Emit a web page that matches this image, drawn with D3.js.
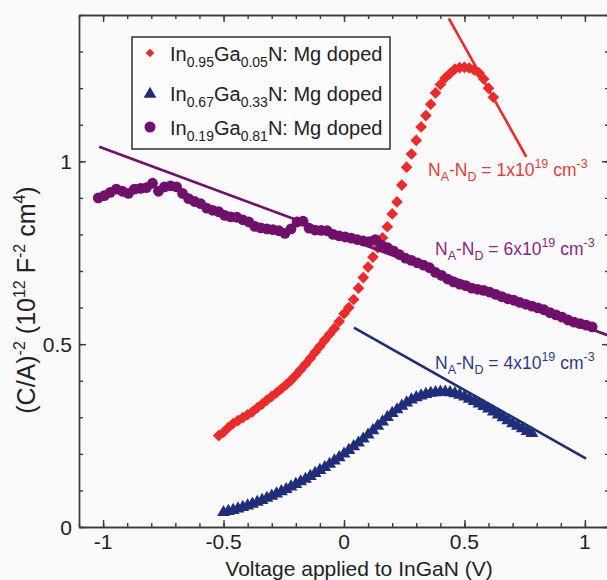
<!DOCTYPE html>
<html>
<head>
<meta charset="utf-8">
<script src="https://cdn.jsdelivr.net/npm/d3@7/dist/d3.min.js"></script>
<style>
  body { margin: 0; background: #fafafa; }
  svg { display: block; font-family: "Liberation Sans", Arial, sans-serif; }
</style>
</head>
<body>
<div id="chart"></div>
<script>
// ---- data: [voltage (V), (C/A)^-2 (1e12 F^-2 cm^4)]
const redPts = [
  [-0.52,0.250],[-0.50,0.259],[-0.48,0.272],[-0.46,0.283],[-0.44,0.291],[-0.42,0.299],
  [-0.40,0.307],[-0.38,0.315],[-0.36,0.326],[-0.34,0.336],[-0.32,0.347],[-0.30,0.357],
  [-0.28,0.367],[-0.26,0.378],[-0.24,0.389],[-0.22,0.401],[-0.20,0.415],[-0.18,0.430],
  [-0.16,0.445],[-0.14,0.461],[-0.12,0.478],[-0.10,0.494],[-0.08,0.511],[-0.06,0.527],
  [-0.04,0.543],[-0.02,0.562],[0.00,0.583],[0.02,0.600],[0.04,0.622],[0.06,0.653],
  [0.08,0.682],[0.10,0.711],[0.12,0.738],[0.14,0.764],[0.16,0.791],[0.18,0.821],
  [0.20,0.856],[0.22,0.889],[0.24,0.935],[0.26,0.984],[0.28,1.020],[0.30,1.057],
  [0.32,1.094],[0.34,1.125],[0.36,1.156],[0.38,1.187],[0.40,1.210],[0.42,1.228],
  [0.44,1.240],[0.46,1.252],[0.48,1.256],[0.50,1.257],[0.52,1.255],[0.54,1.250],
  [0.56,1.242],[0.58,1.225],[0.60,1.200],[0.62,1.175]
];

const bluePts = [
  [-0.50,0.040],[-0.48,0.043],[-0.46,0.046],[-0.44,0.050],[-0.42,0.054],[-0.40,0.058],
  [-0.38,0.063],[-0.36,0.068],[-0.34,0.073],[-0.32,0.079],[-0.30,0.085],[-0.28,0.091],
  [-0.26,0.097],[-0.24,0.103],[-0.22,0.110],[-0.20,0.117],[-0.18,0.124],[-0.16,0.131],
  [-0.14,0.139],[-0.12,0.147],[-0.10,0.155],[-0.08,0.163],[-0.06,0.172],[-0.04,0.181],
  [-0.02,0.190],[0.00,0.200],[0.02,0.210],[0.04,0.220],[0.06,0.230],[0.08,0.241],
  [0.10,0.252],[0.12,0.264],[0.14,0.276],[0.16,0.288],[0.18,0.300],[0.20,0.311],
  [0.22,0.321],[0.24,0.331],[0.26,0.340],[0.28,0.348],[0.30,0.354],[0.32,0.359],
  [0.34,0.363],[0.36,0.366],[0.38,0.368],[0.40,0.369],[0.42,0.369],[0.44,0.368],
  [0.46,0.365],[0.48,0.361],[0.50,0.356],[0.52,0.350],[0.54,0.344],[0.56,0.337],
  [0.58,0.330],[0.60,0.323],[0.62,0.315],[0.64,0.307],[0.66,0.299],[0.68,0.291],
  [0.70,0.283],[0.72,0.276],[0.74,0.269],[0.76,0.262],[0.78,0.256]
];

const purplePts = [
  [-1.020,0.900],[-0.995,0.906],[-0.970,0.915],[-0.945,0.924],[-0.920,0.918],[-0.895,0.912],
  [-0.870,0.924],[-0.845,0.926],[-0.820,0.928],[-0.795,0.940],[-0.770,0.918],[-0.745,0.930],
  [-0.720,0.933],[-0.695,0.930],[-0.670,0.912],[-0.645,0.898],[-0.620,0.890],[-0.595,0.884],
  [-0.570,0.872],[-0.545,0.866],[-0.520,0.862],[-0.495,0.852],[-0.470,0.848],[-0.445,0.847],
  [-0.420,0.840],[-0.395,0.834],[-0.370,0.822],[-0.345,0.818],[-0.320,0.815],[-0.295,0.813],
  [-0.270,0.810],[-0.245,0.803],[-0.220,0.815],[-0.195,0.834],[-0.170,0.836],[-0.145,0.817],
  [-0.120,0.812],[-0.095,0.811],[-0.070,0.810],[-0.045,0.800],[-0.020,0.796],[0.005,0.793],
  [0.030,0.790],[0.055,0.786],[0.080,0.782],[0.105,0.780],[0.130,0.786],[0.155,0.771],
  [0.180,0.764],[0.205,0.755],[0.230,0.745],[0.255,0.735],[0.280,0.729],[0.305,0.722],
  [0.330,0.716],[0.355,0.709],[0.380,0.696],[0.405,0.688],[0.430,0.678],[0.455,0.670],
  [0.480,0.664],[0.505,0.660],[0.530,0.653],[0.555,0.650],[0.580,0.647],[0.605,0.642],
  [0.630,0.636],[0.655,0.630],[0.680,0.624],[0.705,0.620],[0.730,0.614],[0.755,0.609],
  [0.780,0.604],[0.805,0.599],[0.830,0.594],[0.855,0.586],[0.880,0.580],[0.905,0.574],
  [0.930,0.566],[0.955,0.560],[0.980,0.556],[1.005,0.552],[1.030,0.547]
];

// linear fits (end points)
const redFit = [[0.435,1.391],[0.757,1.012]];
const blueFit = [[0.041,0.545],[1.005,0.187]];
const purpleFit = [[-1.016,1.040],[1.10,0.523]];

const legendNames = [
  ["0.95","0.05"],
  ["0.67","0.33"],
  ["0.19","0.81"]
];
const dopingValues = ["1", "6", "4"];   // N_A-N_D in units of 1e19 cm^-3

const xMajor = [-1, -0.5, 0, 0.5, 1];
const xTickLabels = ["-1", "-0.5", "0", "0.5", "1"];
const yMajor = [0, 0.5, 1];
const yTickLabels = ["0", "0.5", "1"];

// ---- layout
const width = 607, height = 580;
const plot = {left: 79, right: 609, top: 15, bottom: 527};

const red = "#ec2a2a", blue = "#1f2e7a", purple = "#700f6c";
const axisColor = "#3a3a3a";

const x = d3.scaleLinear().domain([-1.1, 1.1]).range([plot.left, plot.right]);
const y = d3.scaleLinear().domain([0, 1.4]).range([plot.bottom, plot.top]);

const svg = d3.select("#chart").append("svg")
  .attr("width", width)
  .attr("height", height);

svg.append("defs").append("clipPath").attr("id", "clip")
  .append("rect")
    .attr("x", plot.left).attr("y", plot.top)
    .attr("width", plot.right - plot.left)
    .attr("height", plot.bottom - plot.top);

// ---- axes (ticks point inward, mirrored on top/right)
const xMinor = d3.range(-11, 12).map(d => d / 10);
const yMinor = d3.range(0, 15).map(d => d / 10);

function frameAxis(axis, tf) {
  svg.append("g").attr("transform", tf).call(axis)
    .call(g => g.selectAll("path, line").attr("stroke", axisColor).attr("stroke-width", 1.4))
    .call(g => g.selectAll("text").remove());
}

frameAxis(d3.axisBottom(x).tickValues(xMinor).tickSizeInner(-4).tickSizeOuter(0), `translate(0,${plot.bottom})`);
frameAxis(d3.axisBottom(x).tickValues(xMajor).tickSizeInner(-7).tickSizeOuter(0), `translate(0,${plot.bottom})`);
frameAxis(d3.axisTop(x).tickValues(xMinor).tickSizeInner(-4).tickSizeOuter(0), `translate(0,${plot.top})`);
frameAxis(d3.axisTop(x).tickValues(xMajor).tickSizeInner(-7).tickSizeOuter(0), `translate(0,${plot.top})`);
frameAxis(d3.axisLeft(y).tickValues(yMinor).tickSizeInner(-4).tickSizeOuter(0), `translate(${plot.left},0)`);
frameAxis(d3.axisLeft(y).tickValues(yMajor).tickSizeInner(-7).tickSizeOuter(0), `translate(${plot.left},0)`);
frameAxis(d3.axisRight(y).tickValues(yMinor).tickSizeInner(-4).tickSizeOuter(0), `translate(${plot.right},0)`);
frameAxis(d3.axisRight(y).tickValues(yMajor).tickSizeInner(-7).tickSizeOuter(0), `translate(${plot.right},0)`);

// tick labels
svg.append("g").selectAll("text").data(xMajor).join("text")
  .attr("x", d => x(d))
  .attr("y", 549)
  .attr("text-anchor", "middle")
  .attr("font-size", 21)
  .attr("fill", "#222")
  .text((d, i) => xTickLabels[i]);

svg.append("g").selectAll("text").data(yMajor).join("text")
  .attr("x", plot.left - 7)
  .attr("y", d => y(d) + 7.5)
  .attr("text-anchor", "end")
  .attr("font-size", 21)
  .attr("fill", "#222")
  .text((d, i) => yTickLabels[i]);

// axis titles
svg.append("text")
  .attr("x", 359).attr("y", 576)
  .attr("text-anchor", "middle")
  .attr("font-size", 21)
  .attr("fill", "#222")
  .text("Voltage applied to InGaN (V)");

const yTitle = svg.append("text")
  .attr("transform", "translate(35,300) rotate(-90)")
  .attr("text-anchor", "middle")
  .attr("font-size", 25)
  .attr("fill", "#222");
[["(C/A)", 0], ["-2", -1], [" (10", 0], ["12", -1], [" F", 0], ["-2", -1], [" cm", 0], ["4", -1], [")", 0]]
  .forEach(([t, sup], i, arr) => {
    const prev = i > 0 ? arr[i - 1][1] : 0;
    yTitle.append("tspan")
      .attr("dy", (sup - prev) * 10)
      .attr("font-size", sup ? 16 : 25)
      .text(t);
  });

// ---- data marks
const plotG = svg.append("g").attr("clip-path", "url(#clip)");

const diamond = d3.symbol().type(d3.symbolSquare).size(68);
const triangle = d3.symbol().type(d3.symbolTriangle).size(72);

plotG.append("g").selectAll("path").data(redPts).join("path")
  .attr("d", diamond)
  .attr("transform", d => `translate(${x(d[0])},${y(d[1])}) rotate(45)`)
  .attr("fill", red);

plotG.append("g").selectAll("path").data(bluePts).join("path")
  .attr("d", triangle)
  .attr("transform", d => `translate(${x(d[0])},${y(d[1])})`)
  .attr("fill", blue);

plotG.append("g").selectAll("circle").data(purplePts).join("circle")
  .attr("cx", d => x(d[0]))
  .attr("cy", d => y(d[1]))
  .attr("r", 5.4)
  .attr("fill", purple);

const line = d3.line().x(d => x(d[0])).y(d => y(d[1]));
[[redFit, red], [blueFit, blue], [purpleFit, purple]].forEach(([pts, c]) => {
  plotG.append("path")
    .attr("d", line(pts))
    .attr("fill", "none")
    .attr("stroke", c)
    .attr("stroke-width", 2.6);
});

// ---- doping annotations
const annot = [
  {x: 428, y: 176, color: "#e93a36"},
  {x: 435, y: 255, color: "#8a2684"},
  {x: 435, y: 369, color: "#2c3a86"}
];
annot.forEach((a, i) => {
  const t = svg.append("text")
    .attr("x", a.x).attr("y", a.y)
    .attr("font-size", 17.5)
    .attr("fill", a.color);
  const parts = [["N", 0], ["A", 1], ["-N", 0], ["D", 1], [` = ${dopingValues[i]}x10`, 0], ["19", -1], [" cm", 0], ["-3", -1]];
  parts.forEach(([s, shift], j) => {
    const prev = j > 0 ? parts[j - 1][1] : 0;
    t.append("tspan")
      .attr("dy", (shift - prev) * (shift > 0 || prev > 0 ? 5 : 8))
      .attr("font-size", shift ? 12.5 : 17.5)
      .text(s);
  });
});

// ---- legend
const legend = svg.append("g");
legend.append("rect")
  .attr("x", 132).attr("y", 37)
  .attr("width", 258).attr("height", 112)
  .attr("fill", "#fcfcfc")
  .attr("stroke", "#222")
  .attr("stroke-width", 1.4);

const rowY = [53, 93, 127];
legend.append("path")
  .attr("d", d3.symbol().type(d3.symbolSquare).size(38))
  .attr("transform", `translate(150,${rowY[0]}) rotate(45)`)
  .attr("fill", red);
legend.append("path")
  .attr("d", d3.symbol().type(d3.symbolTriangle).size(70))
  .attr("transform", `translate(150,${rowY[1] + 1})`)
  .attr("fill", blue);
legend.append("circle")
  .attr("cx", 150).attr("cy", rowY[2])
  .attr("r", 5.5)
  .attr("fill", purple);

legendNames.forEach((n, i) => {
  const t = legend.append("text")
    .attr("x", 170).attr("y", rowY[i] + 8)
    .attr("font-size", 20)
    .attr("fill", "#222");
  t.append("tspan").text("In");
  t.append("tspan").attr("dy", 6).attr("font-size", 14).text(n[0]);
  t.append("tspan").attr("dy", -6).text("Ga");
  t.append("tspan").attr("dy", 6).attr("font-size", 14).text(n[1]);
  t.append("tspan").attr("dy", -6).text("N: Mg doped");
});
</script>
</body>
</html>
